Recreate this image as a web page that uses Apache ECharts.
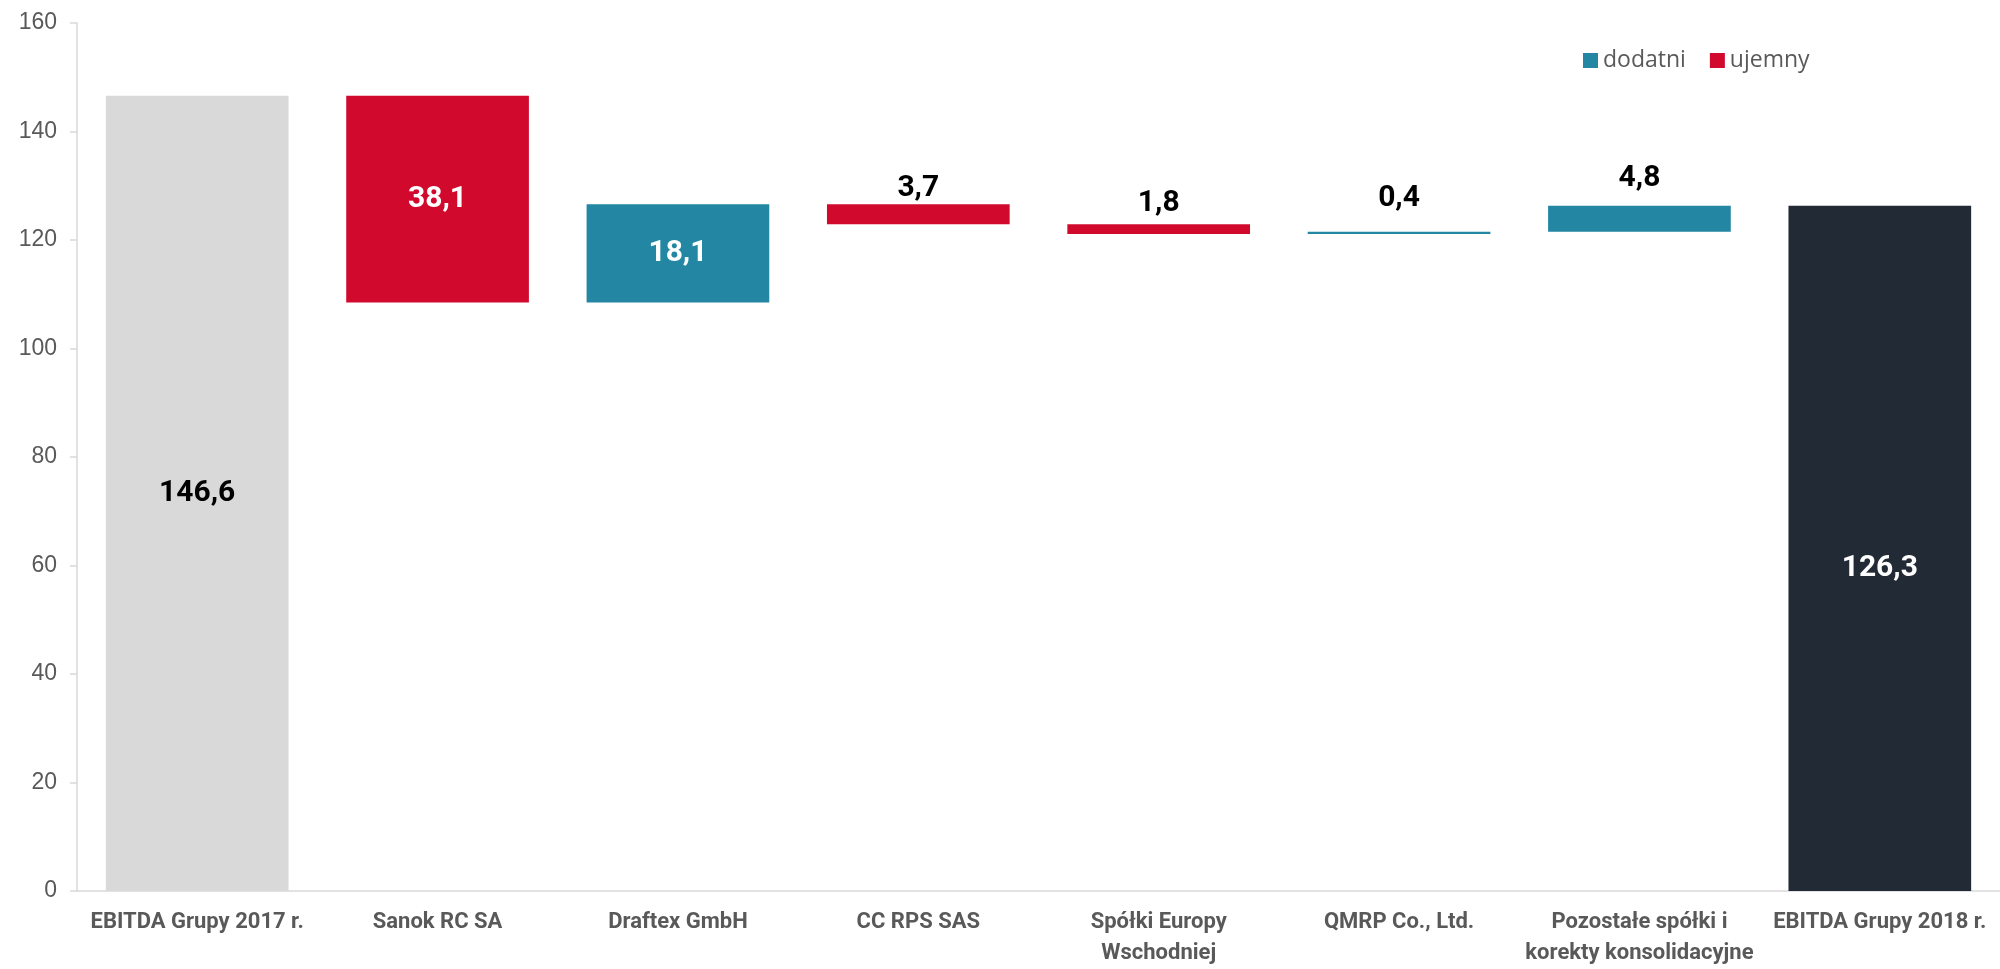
<!DOCTYPE html>
<html>
<head>
<meta charset="utf-8">
<script src="https://cdn.jsdelivr.net/npm/echarts@6/dist/echarts.min.js"></script>
<style>
html,body{margin:0;padding:0;background:#fff;}
#chart{width:2000px;height:969px;}
</style>
</head>
<body>
<div id="chart"></div>
<script>
var categories = ['EBITDA Grupy 2017 r.', 'Sanok RC SA', 'Draftex GmbH', 'CC RPS SAS', 'Spółki Europy\nWschodniej', 'QMRP Co., Ltd.', 'Pozostałe spółki i\nkorekty konsolidacyjne', 'EBITDA Grupy 2018 r.'];
var totals   = [146.6, null, null, null, null, null, null, 126.3];
var dodatni  = [null, null, 18.1, null, null, 0.4, 4.8, null];
var ujemny   = [null, 38.1, null, 3.7, 1.8, null, null, null];
var yTicks = { min: 0, max: 160, interval: 20 };

// ---- styling ----
var totalColors = ['#d9d9d9', null, null, null, null, null, null, '#222a35'];
var totalLabelColors = ['#000', null, null, null, null, null, null, '#fff'];
var totalLabelOffsetY = [0, 0, 0, 0, 0, 0, 0, 20];
var topLabelDistance = [0, 0, 0, 1, 6, 18, 12, 0];
var labelFont = "Roboto, sans-serif";

// invisible base for floating bars (running level)
var base = [];
var level = 0;
for (var i = 0; i < categories.length; i++) {
  if (totals[i] != null) { base.push('-'); level = totals[i]; }
  else if (dodatni[i] != null) { base.push(level); level += dodatni[i]; }
  else if (ujemny[i] != null) { level -= ujemny[i]; base.push(level); }
  else base.push('-');
}

function fmt(v){ return v.toFixed(1).replace('.', ','); }

function labelFor(v, i){
  var l = { show: true, fontSize: 30, fontWeight: 'bold', fontFamily: labelFont, formatter: function(p){return fmt(p.value);} };
  if (v >= 10) { l.position = 'inside'; l.color = '#fff'; }
  else { l.position = 'top'; l.distance = topLabelDistance[i]; l.color = '#000'; }
  return l;
}

function build(arr){
  return arr.map(function(v, i){
    if (v == null) return '-';
    return { value: v, label: labelFor(v, i) };
  });
}

var totalData = totals.map(function(v, i){
  if (v == null) return '-';
  return { value: v, itemStyle: { color: totalColors[i] },
    label: { show: true, position: 'inside', offset: [0, totalLabelOffsetY[i]], color: totalLabelColors[i], fontSize: 30, fontWeight: 'bold', fontFamily: labelFont, formatter: function(p){return fmt(p.value);} } };
});

var chart = echarts.init(document.getElementById('chart'), null, { renderer: 'canvas' });
chart.setOption({
  animation: false,
  backgroundColor: '#fff',
  grid: { left: 77, top: 23, height: 875, width: 1936 },
  legend: {
    data: ['dodatni', 'ujemny'],
    left: 1578, top: 44,
    itemWidth: 15, itemHeight: 15, itemGap: 24,
    icon: 'rect',
    textStyle: { fontFamily: "'Open Sans', sans-serif", fontSize: 23, color: '#595959' }
  },
  xAxis: {
    type: 'category',
    data: categories,
    axisLine: { show: true, lineStyle: { color: '#d9d9d9', width: 1.5 } },
    axisTick: { show: false },
    axisLabel: { interval: 0, margin: 16, color: '#595959', fontSize: 22, fontWeight: 'bold', fontFamily: labelFont, lineHeight: 31 }
  },
  yAxis: {
    type: 'value',
    min: yTicks.min, max: yTicks.max, interval: yTicks.interval,
    axisLine: { show: true, lineStyle: { color: '#d9d9d9', width: 1.5 } },
    axisTick: { show: true, length: 7, lineStyle: { color: '#d9d9d9', width: 1.5 } },
    splitLine: { show: false },
    axisLabel: { margin: 20, color: '#595959', fontSize: 23, fontFamily: "'Liberation Sans', Arial, sans-serif" }
  },
  series: [
    { name: 'base', type: 'bar', stack: 'w', data: base, itemStyle: { color: 'transparent' }, barCategoryGap: '24%', silent: true },
    { name: 'total', type: 'bar', stack: 'w', data: totalData },
    { name: 'dodatni', type: 'bar', stack: 'w', data: build(dodatni), itemStyle: { color: '#2386a3' } },
    { name: 'ujemny', type: 'bar', stack: 'w', data: build(ujemny), itemStyle: { color: '#d10a2d' } }
  ]
});
</script>
</body>
</html>
